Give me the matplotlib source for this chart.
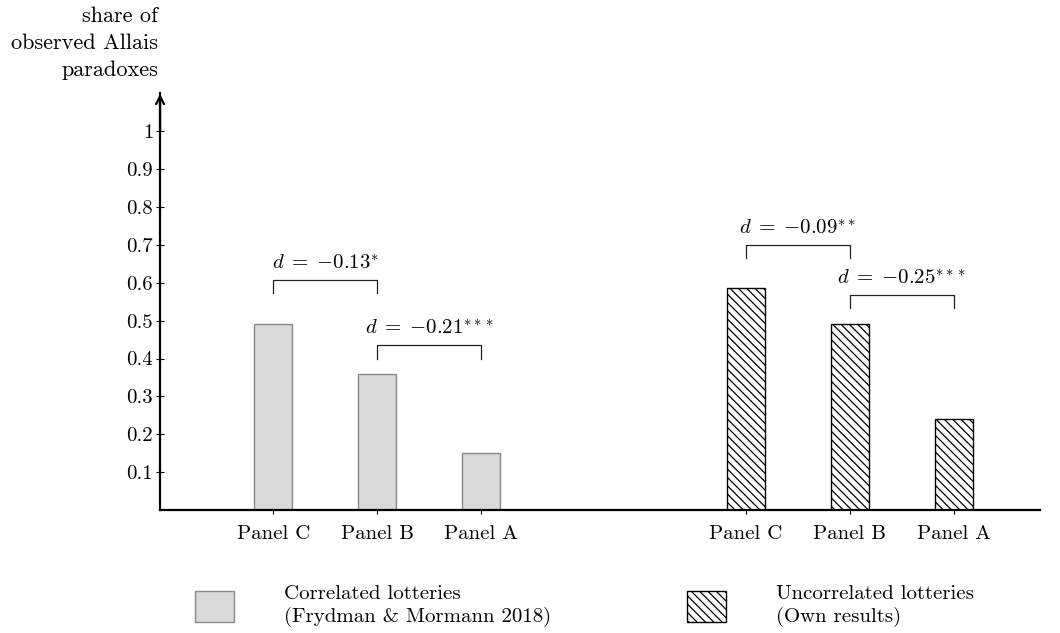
import matplotlib
matplotlib.use('Agg')
import matplotlib.pyplot as plt
from matplotlib.patches import Patch

plt.rcParams['font.family'] = 'cmr10'
plt.rcParams['mathtext.fontset'] = 'cm'
plt.rcParams['axes.formatter.use_mathtext'] = True
plt.rcParams['hatch.linewidth'] = 0.9

# данные
panels = ['Panel C', 'Panel B', 'Panel A']
corr_vals = [0.49, 0.36, 0.15]      # Frydman & Mormann 2018
uncorr_vals = [0.585, 0.49, 0.24]   # own results
corr_pos = [1.09, 2.09, 3.09]
uncorr_pos = [5.63, 6.63, 7.63]
yticks = [0.1, 0.2, 0.3, 0.4, 0.5, 0.6, 0.7, 0.8, 0.9, 1.0]
ytick_labels = ['0.1', '0.2', '0.3', '0.4', '0.5', '0.6', '0.7', '0.8', '0.9', '1']

# скобки: (x1, x2, верх, низ, подпись)
brackets = [
    (corr_pos[0], corr_pos[1], 0.607, 0.572, r'$d\;=\;{-}0.13^{*}$'),
    (corr_pos[1], corr_pos[2], 0.435, 0.400, r'$d\;=\;{-}0.21^{***}$'),
    (uncorr_pos[0], uncorr_pos[1], 0.700, 0.665, r'$d\;=\;{-}0.09^{**}$'),
    (uncorr_pos[1], uncorr_pos[2], 0.567, 0.532, r'$d\;=\;{-}0.25^{***}$'),
]

fs = 15

fig = plt.figure(figsize=(10.6, 6.33), dpi=100)
ax = fig.add_axes([0.151, 0.194, 0.830, 0.659])

w = 0.365
ax.bar(corr_pos, corr_vals, width=w, color='#d9d9d9', edgecolor='#8a8a8a', linewidth=1)
ax.bar(uncorr_pos, uncorr_vals, width=w, color='white', edgecolor='black',
       hatch='\\\\\\\\', linewidth=1)

for x1, x2, top, bot, txt in brackets:
    ax.plot([x1, x1, x2, x2], [bot, top, top, bot], color='#222222', lw=0.9)
    ax.text((x1 + x2) / 2, top + 0.018, txt, ha='center', va='bottom', fontsize=fs)

ax.set_xlim(0, 8.46)
ax.set_ylim(0, 1.1)
ax.set_yticks(yticks)
ax.set_yticklabels(ytick_labels, fontsize=fs)
ax.set_xticks(corr_pos + uncorr_pos)
ax.set_xticklabels(panels + panels, fontsize=fs)
ax.tick_params(axis='y', direction='inout', length=6, width=0.8, pad=2)
ax.tick_params(axis='x', direction='out', length=3, width=0.8, pad=8)

for s in ['top', 'right']:
    ax.spines[s].set_visible(False)
ax.spines['left'].set_linewidth(1.6)
ax.spines['bottom'].set_linewidth(1.6)
# стрелка на оси y
ax.annotate('', xy=(0, 1.098), xytext=(0, 1.0), xycoords='data',
            arrowprops=dict(arrowstyle='->', lw=1.6, color='black',
                            mutation_scale=14, shrinkA=0, shrinkB=0),
            annotation_clip=False)

fig.text(158 / 1060, 1 - 6 / 633, 'share of\nobserved Allais\nparadoxes',
         ha='right', va='top', fontsize=16, linespacing=1.5)

handles = [Patch(facecolor='#d9d9d9', edgecolor='#8a8a8a', lw=1),
           Patch(facecolor='white', edgecolor='black', hatch='\\\\\\\\', lw=1)]
labels = ['Correlated lotteries\n(Frydman & Mormann 2018)',
          'Uncorrelated lotteries\n(Own results)']
fig.legend(handles, labels, loc='center left', bbox_to_anchor=(176 / 1060, 1 - 606 / 633),
           ncol=2, frameon=False, fontsize=fs, handlelength=1.9, handleheight=1.9,
           handletextpad=2.4, columnspacing=6.5, labelspacing=0, borderpad=0.4)

fig.savefig('out.png', dpi=100)
